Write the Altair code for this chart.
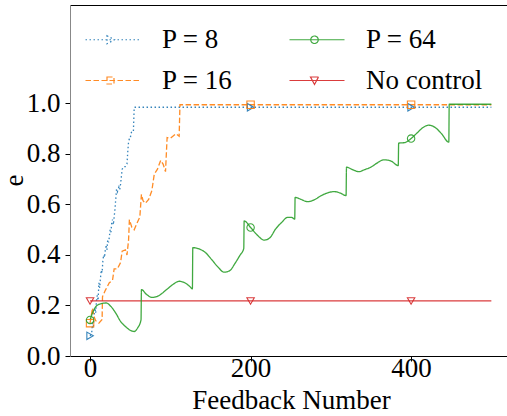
import altair as alt
import pandas as pd

FONT = "Liberation Serif"

# ---- data ----
series_order = ["P = 8", "P = 16", "P = 64", "No control"]
series_colors = ["#1f77b4", "#ff7f0e", "#2ca02c", "#d62728"]
series_dashes = [[1.5, 2.5], [5.5, 2.5], [1, 0], [1, 0]]
series_shapes = ["triangle-right", "square", "circle", "triangle-down"]

p8_x = [0, 2, 3, 4, 5, 6, 7, 8, 9, 10, 11, 12, 13, 14, 15, 16, 17, 18, 19, 20,
        21, 22, 23, 24, 25, 26, 27, 28, 29, 30, 31, 32, 33, 34, 35, 36, 37, 38, 39, 40,
        42, 44, 46, 47, 48, 49, 50, 51, 52, 53, 54, 55, 56, 200, 400, 500]
p8_y = [0.08, 0.09, 0.13, 0.11, 0.16, 0.19, 0.17, 0.22, 0.24, 0.22,
        0.29, 0.27, 0.31, 0.34, 0.33, 0.38, 0.40, 0.39, 0.42, 0.44,
        0.42, 0.46, 0.45, 0.47, 0.50, 0.49, 0.53, 0.54, 0.52, 0.55,
        0.58, 0.62, 0.66, 0.65, 0.66, 0.67, 0.66, 0.68, 0.71, 0.74,
        0.75, 0.75, 0.76, 0.81, 0.85, 0.86, 0.86, 0.88, 0.89, 0.89,
        0.89, 0.985, 0.985, 0.985, 0.985, 0.985]

p16_x = [0, 3, 5, 7, 11, 15, 15.5, 19, 24, 28, 30, 34, 38, 40, 44, 46, 48, 49, 52, 55,
         59, 62, 64, 66, 69, 73, 77, 80, 84, 88, 91, 94, 96, 100, 107, 111, 112, 200, 400, 500]
p16_y = [0.13, 0.19, 0.155, 0.14, 0.13, 0.145, 0.235, 0.26, 0.29, 0.30,
         0.345, 0.345, 0.37, 0.415, 0.42, 0.40, 0.46, 0.54, 0.51, 0.50,
         0.53, 0.55, 0.64, 0.615, 0.605, 0.62, 0.655, 0.72, 0.74, 0.775,
         0.76, 0.73, 0.865, 0.862, 0.88, 0.87, 0.995, 0.995, 0.995, 0.995]

p64_x = [0, 3, 6, 10, 15, 20, 26, 32, 38, 44, 50, 55, 59, 63.5, 64, 70, 77, 85, 95, 104,
         111, 118, 124, 127.5, 128, 135, 144, 152, 160, 167, 174, 181, 187, 191.5, 192, 200, 208, 217, 224, 231,
         239, 246, 251, 255, 255.5, 263, 271, 279, 288, 296, 304, 312, 319, 319.5, 327, 335, 342, 350, 358, 366,
         375, 384, 384.5, 392, 400, 408, 415, 422, 430, 438, 447, 447.5, 500]
p64_y = [0.143, 0.17, 0.19, 0.203, 0.208, 0.21, 0.196, 0.17, 0.137, 0.117,
         0.102, 0.097, 0.11, 0.143, 0.263, 0.245, 0.232, 0.238, 0.262, 0.285,
         0.296, 0.29, 0.276, 0.266, 0.429, 0.425, 0.409, 0.38, 0.35, 0.332,
         0.338, 0.369, 0.40, 0.425, 0.535, 0.509, 0.48, 0.459, 0.468, 0.502,
         0.53, 0.549, 0.549, 0.542, 0.628, 0.62, 0.611, 0.618, 0.635, 0.646,
         0.651, 0.645, 0.635, 0.748, 0.738, 0.73, 0.738, 0.748, 0.765, 0.777,
         0.772, 0.754, 0.843, 0.845, 0.861, 0.885, 0.905, 0.914, 0.905, 0.88,
         0.847, 0.997, 0.997]

nc_x = [0, 200, 400, 500]
nc_y = [0.218, 0.218, 0.218, 0.218]

marker_x = [0, 200, 400]
x_ticks = [0, 200, 400]
y_ticks = [0.0, 0.2, 0.4, 0.6, 0.8, 1.0]

frames = []
for name, xs, ys in [("P = 8", p8_x, p8_y), ("P = 16", p16_x, p16_y),
                     ("P = 64", p64_x, p64_y), ("No control", nc_x, nc_y)]:
    frames.append(pd.DataFrame({"series": name, "x": xs, "y": ys}))
df = pd.concat(frames, ignore_index=True)

# ---- legend symbols: line + hollow marker (unit = 5 px) ----
legend_paths = {
    "P = 8": "M-1,0H10M3.3,-0.8L4.8,0L3.3,0.8Z",
    "P = 16": "M-1,0H10M3.3,-0.7H4.7V0.7H3.3Z",
    "P = 64": "M-1,0H10M4.75,0A0.75,0.75 0 1,1 3.25,0A0.75,0.75 0 1,1 4.75,0Z",
    "No control": "M-1,0H10M3.2,-0.7H4.8L4,0.8Z",
}
shape_sig = "'" + legend_paths["No control"] + "'"
for k in ["P = 64", "P = 16", "P = 8"]:
    shape_sig = "datum.value === '" + k + "' ? '" + legend_paths[k] + "' : " + shape_sig

legend = alt.Legend(
    orient="none", legendX=7, legendY=21, columns=2, columnPadding=48, rowPadding=13,
    title=None, padding=0, labelOffset=58, symbolSize=100, symbolStrokeWidth=1.2,
    labelFont=FONT, labelFontSize=27, labelColor="black", labelLimit=0,
    symbolType=alt.ExprRef(expr=shape_sig), symbolFillColor="transparent",
)

xscale = alt.Scale(domain=[-25, 519.5], nice=False, zero=False)
yscale = alt.Scale(domain=[0, 1.39], nice=False, zero=False)
cscale = alt.Scale(domain=series_order, range=series_colors)
dscale = alt.Scale(domain=series_order, range=series_dashes)

xaxis = alt.Axis(values=x_ticks, labelFlush=False, grid=False, domainColor="black",
                 tickColor="black", tickSize=5, labelPadding=15, labelBaseline="alphabetic",
                 labelFont=FONT, labelFontSize=27, labelColor="black", title="Feedback Number",
                 titleFont=FONT, titleFontSize=27, titleFontWeight="normal",
                 titleColor="black", titleX=221, titleY=52, titleAlign="center",
                 titleBaseline="alphabetic")
xaxis_top = alt.Axis(orient="top", labels=False, ticks=False, grid=False,
                     domainColor="black", title=None)
yaxis = alt.Axis(values=y_ticks, format=".1f", labelFlush=False, grid=False,
                 domainColor="#888888", tickColor="black", tickSize=5, labelPadding=5,
                 labelFont=FONT, labelFontSize=27, labelColor="black", title="e",
                 titleFont=FONT, titleFontSize=27, titleFontWeight="normal",
                 titleColor="black", titleAngle=270, titleX=-56, titleY=175,
                 titleAlign="center", titleBaseline="middle")

base = alt.Chart(df)

lines = base.transform_filter(alt.datum.series != "P = 64").mark_line(
    strokeWidth=1.3, opacity=0.9
).encode(
    x=alt.X("x:Q", scale=xscale, axis=xaxis),
    y=alt.Y("y:Q", scale=yscale, axis=yaxis),
    color=alt.Color("series:N", scale=cscale, legend=legend),
    strokeDash=alt.StrokeDash("series:N", scale=dscale, legend=legend),
)

green = base.transform_filter(alt.datum.series == "P = 64").mark_line(
    strokeWidth=1.3, opacity=0.9, interpolate="monotone"
).encode(
    x=alt.X("x:Q", scale=xscale, axis=None),
    y=alt.Y("y:Q", scale=yscale, axis=yaxis),
    color=alt.Color("series:N", scale=cscale, legend=legend),
    strokeDash=alt.StrokeDash("series:N", scale=dscale, legend=legend),
)

layers = [lines, green]
for i, (name, col, shp) in enumerate(zip(series_order, series_colors, series_shapes)):
    pts = base.transform_filter(alt.datum.series == name).transform_filter(
        alt.FieldOneOfPredicate(field="x", oneOf=marker_x)
    ).mark_point(filled=False, shape=shp, size=55, strokeWidth=1.1, opacity=0.9,
                 color=col).encode(
        x=alt.X("x:Q", scale=xscale, axis=xaxis_top if i == 0 else None),
        y=alt.Y("y:Q", scale=yscale, axis=yaxis),
    )
    layers.append(pts)

chart = alt.layer(*layers).resolve_axis(x="independent").properties(
    width=437, height=351,
    autosize=alt.AutoSizeParams(type="none"),
    padding={"left": 70, "top": 5, "right": 0, "bottom": 60},
    background="white",
).configure_view(stroke=None)

chart.save("out.html", embed_options={"renderer": "svg", "actions": False})
